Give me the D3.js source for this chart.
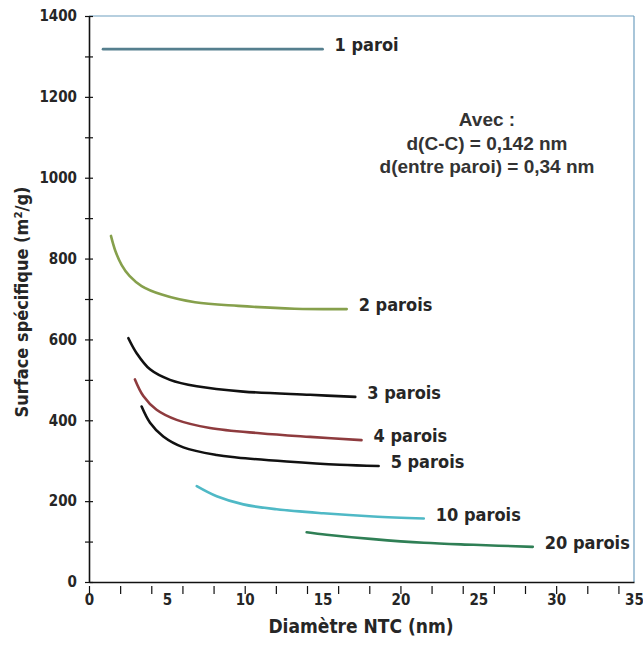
<!DOCTYPE html>
<html>
<head>
<meta charset="utf-8">
<script src="https://cdn.jsdelivr.net/npm/d3@7"></script>
<style>
  body { margin: 0; background: #fff; }
  text { font-family: "Liberation Sans Narrow", "DejaVu Sans Condensed", sans-serif; font-weight: bold; fill: #262626; }
  .note { font-family: "Liberation Sans", Arial, sans-serif; font-size: 19px; fill: #333; }
</style>
</head>
<body>
<svg id="chart" width="643" height="645"></svg>
<script>
    // values: [diameter nm, m2/g]
    var paroi1 = [[0.9, 1318], [15.0, 1318]];
    var parois2 = [[1.41, 856], [1.7, 818], [2.1, 784], [2.6, 757], [3.38, 732], [4.67, 711], [6.81, 692], [9.59, 683], [13.2, 676], [16.55, 675]];
    var parois3 = [[2.53, 603], [3.06, 566], [3.92, 526], [5.2, 500], [6.92, 484], [9.91, 471], [14.2, 463], [17.1, 458]];
    var parois4 = [[2.95, 501], [3.49, 460], [4.34, 426], [5.63, 401], [7.77, 381], [10.98, 368], [14.2, 359], [17.5, 351]];
    var parois5 = [[3.38, 434], [3.92, 394], [4.77, 360], [6.06, 333], [8.2, 314], [9.48, 308], [12.7, 298], [16.1, 290], [18.6, 287]];
    var parois10 = [[6.92, 237], [8.2, 212], [9.91, 192], [12.05, 180], [15.05, 170], [18.26, 162], [21.5, 157]];
    var parois20 = [[13.98, 123], [15.26, 117], [18.26, 106], [21.5, 97], [24.7, 92], [28.5, 87]];

    var seriesNames = ['1 paroi', '2 parois', '3 parois', '4 parois', '5 parois', '10 parois', '20 parois'];
    var seriesValues = [paroi1, parois2, parois3, parois4, parois5, parois10, parois20];
    var seriesColors = ['#557f8e', '#86a04c', '#111111', '#8e3b3e', '#111111', '#4fb9c6', '#2f7f55'];

    var xTicks = [0, 5, 10, 15, 20, 25, 30, 35];
    var yTicks = [0, 200, 400, 600, 800, 1000, 1200, 1400];
    var noteLines = ['Avec :', 'd(C-C) = 0,142 nm', 'd(entre paroi) = 0,34 nm'];

    var svg = d3.select('#chart');
    var margin = {left: 89, right: 9, top: 16, bottom: 63};
    var width = 643 - margin.left - margin.right;
    var height = 645 - margin.top - margin.bottom;

    var x = d3.scaleLinear().domain([0, 35]).range([0, width]);
    var y = d3.scaleLinear().domain([0, 1400]).range([height, 0]);

    var g = svg.append('g').attr('transform', 'translate(' + margin.left + ',' + margin.top + ')');

    // thin frame on top and right
    g.append('line').attr('x1', 0).attr('x2', width).attr('y1', 0).attr('y2', 0)
        .attr('stroke', '#6f9fc0').attr('stroke-width', 1.2);
    g.append('line').attr('x1', width).attr('x2', width).attr('y1', 0).attr('y2', height)
        .attr('stroke', '#6f9fc0').attr('stroke-width', 1.2);

    // axes
    function styleAxis(sel) {
        sel.select('.domain').attr('stroke', '#111').attr('stroke-width', 1.6);
        sel.selectAll('.tick line').attr('stroke', '#111').attr('stroke-width', 1.4);
        sel.selectAll('text').style('font-size', '15px');
    }

    var xMinor = g.append('g').attr('transform', 'translate(0,' + (height + 4) + ')')
        .call(d3.axisBottom(x).ticks(14).tickSize(8).tickFormat(''));
    xMinor.select('.domain').remove();
    xMinor.selectAll('.tick line').attr('stroke', '#111').attr('stroke-width', 1.2);

    var yMinor = g.append('g').attr('transform', 'translate(4,0)')
        .call(d3.axisLeft(y).ticks(14).tickSize(8).tickFormat(''));
    yMinor.select('.domain').remove();
    yMinor.selectAll('.tick line').attr('stroke', '#111').attr('stroke-width', 1.2);

    var xAxis = g.append('g').attr('transform', 'translate(0,' + height + ')')
        .call(d3.axisBottom(x).tickValues(xTicks).tickSize(0).tickPadding(12).tickFormat(d3.format('d')));
    styleAxis(xAxis);

    var yAxis = g.append('g')
        .call(d3.axisLeft(y).tickValues(yTicks).tickSize(0).tickPadding(12).tickFormat(d3.format('d')));
    styleAxis(yAxis);

    // curves
    var line = d3.line()
        .x(function(d) { return x(d[0]); })
        .y(function(d) { return y(d[1]); })
        .curve(d3.curveCatmullRom.alpha(0.5));

    seriesValues.forEach(function(values, i) {
        g.append('path')
            .datum(values)
            .attr('d', line)
            .attr('fill', 'none')
            .attr('stroke', seriesColors[i])
            .attr('stroke-width', 2.6)
            .attr('stroke-linecap', 'round');

        var last = values[values.length - 1];
        g.append('text')
            .attr('x', x(last[0]) + 12)
            .attr('y', y(last[1]) - 4)
            .attr('dy', '0.35em')
            .style('font-size', '18px')
            .text(seriesNames[i]);
    });

    // annotation
    g.selectAll('.note').data(noteLines).enter().append('text')
        .attr('class', 'note')
        .attr('x', 398)
        .attr('y', function(d, i) { return 110 + i * 23.5; })
        .attr('text-anchor', 'middle')
        .text(function(d) { return d; });

    // axis titles
    svg.append('text')
        .attr('x', 361)
        .attr('y', 633)
        .attr('text-anchor', 'middle')
        .style('font-size', '19px')
        .text('Diamètre NTC (nm)');

    svg.append('text')
        .attr('transform', 'translate(28,' + 302 + ') rotate(-90)')
        .attr('text-anchor', 'middle')
        .style('font-size', '18px')
        .text('Surface spécifique (m²/g)');
</script>
</body>
</html>
